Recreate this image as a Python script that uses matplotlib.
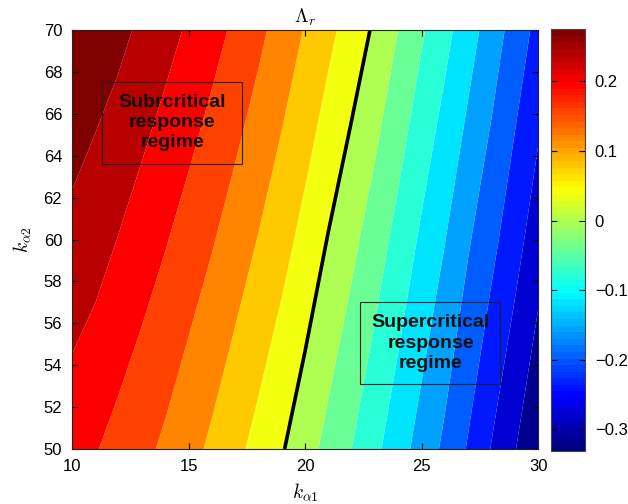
import matplotlib
matplotlib.use("Agg")
import matplotlib.pyplot as plt
import numpy as np
from matplotlib.colors import Normalize, LinearSegmentedColormap
from matplotlib.cm import ScalarMappable
from matplotlib.patches import Rectangle

plt.rcParams['font.family'] = ['Liberation Sans', 'DejaVu Sans']
plt.rcParams['mathtext.fontset'] = 'cm'

# grid of stiffness values
k_a1 = [10, 11, 12, 13, 14, 15, 16, 17, 18, 19, 20,
        21, 22, 23, 24, 25, 26, 27, 28, 29, 30]
k_a2 = [50, 60, 70]

# Lambda_r along each k_a2 row
lambda_at_50 = [0.176, 0.1625, 0.1466, 0.1304, 0.1129, 0.0932, 0.0726, 0.0501,
                0.027, 0.0033, -0.024, -0.052, -0.080, -0.111, -0.1435, -0.1759,
                -0.2084, -0.2438, -0.2822, -0.3182, -0.355]
lambda_at_60 = [0.229, 0.2164, 0.1986, 0.1807, 0.1629, 0.1433, 0.1234, 0.1011,
                0.0783, 0.0539, 0.0274, -0.002, -0.0299, -0.0603, -0.093, -0.1268,
                -0.159, -0.1959, -0.2289, -0.2649, -0.3026]
lambda_at_70 = [0.276, 0.263, 0.2506, 0.2323, 0.2139, 0.195, 0.1744, 0.1529,
                0.1294, 0.104, 0.0773, 0.0499, 0.0225, -0.0062, -0.0403, -0.0748,
                -0.1083, -0.1426, -0.1792, -0.2164, -0.2521]

levels = [-0.36, -0.32, -0.28, -0.24, -0.20, -0.16, -0.12, -0.08, -0.04,
          0.0, 0.04, 0.08, 0.12, 0.16, 0.20, 0.24, 0.28]
c_min, c_max = -0.331, 0.275

x_ticks = [10, 15, 20, 25, 30]
y_ticks = [50, 52, 54, 56, 58, 60, 62, 64, 66, 68, 70]
cbar_ticks = [-0.3, -0.2, -0.1, 0.0, 0.1, 0.2]
cbar_labels = ['\u22120.3', '\u22120.2', '\u22120.1', '0', '0.1', '0.2']

X, Y = np.meshgrid(k_a1, k_a2)
Z = np.array([lambda_at_50, lambda_at_60, lambda_at_70])

# classic MATLAB-style jet
jet_nodes = [(0.0, (0.0, 0.0, 0.5)), (0.125, (0.0, 0.0, 1.0)),
             (0.375, (0.0, 1.0, 1.0)), (0.625, (1.0, 1.0, 0.0)),
             (0.875, (1.0, 0.0, 0.0)), (1.0, (0.5, 0.0, 0.0))]
jet = LinearSegmentedColormap.from_list('mjet', jet_nodes, N=256)
jet64 = LinearSegmentedColormap.from_list('mjet64', jet_nodes, N=64)

norm = Normalize(c_min, c_max)
# each band takes the colour of its upper level
band_colors = [jet(float(np.clip(norm(levels[i + 1]), 0, 1)))
               for i in range(len(levels) - 1)]

fig = plt.figure(figsize=(6.28, 5.04), dpi=100)
ax = fig.add_axes([0.1146, 0.1091, 0.7424, 0.8314])

ax.contourf(X, Y, Z, levels=levels, colors=band_colors, antialiased=True)
ax.contour(X, Y, Z, levels=[0.0], colors='black', linewidths=2.6)

ax.set_xlim(10, 30)
ax.set_ylim(50, 70)
ax.set_xticks(x_ticks)
ax.set_yticks(y_ticks)
ax.tick_params(direction='in', top=True, right=True, length=4, width=0.8,
               labelsize=12, pad=7)
for s in ax.spines.values():
    s.set_linewidth(0.8)
    s.set_color('#222222')

ax.set_xlabel(r'$k_{\alpha 1}$', fontsize=14, labelpad=6)
ax.set_ylabel(r'$k_{\alpha 2}$', fontsize=14, labelpad=7)
ax.set_title(r'$\Lambda_r$', fontsize=14, pad=5)

# regime annotations
ax.add_patch(Rectangle((11.29, 63.6), 6.01, 3.92, fill=False,
                       edgecolor='#222222', linewidth=0.8))
ax.text(14.3, 65.58, 'Subrcritical\nresponse\nregime', ha='center', va='center',
        fontsize=14, fontweight='bold', linespacing=1.25, color='#111111')

ax.add_patch(Rectangle((22.36, 53.09), 6.01, 3.91, fill=False,
                       edgecolor='#222222', linewidth=0.8))
ax.text(25.4, 55.05, 'Supercritical\nresponse\nregime', ha='center', va='center',
        fontsize=14, fontweight='bold', linespacing=1.25, color='#111111')

cax = fig.add_axes([0.8774, 0.1058, 0.0541, 0.836])
sm = ScalarMappable(norm=norm, cmap=jet64)
cb = fig.colorbar(sm, cax=cax, ticks=cbar_ticks)
cb.ax.set_yticklabels(cbar_labels)
cb.ax.tick_params(direction='in', left=True, right=True, length=4, width=0.8,
                  labelsize=12, pad=7)
cb.outline.set_linewidth(0.8)
cb.outline.set_edgecolor('#444444')

fig.savefig('out.png', dpi=100)
